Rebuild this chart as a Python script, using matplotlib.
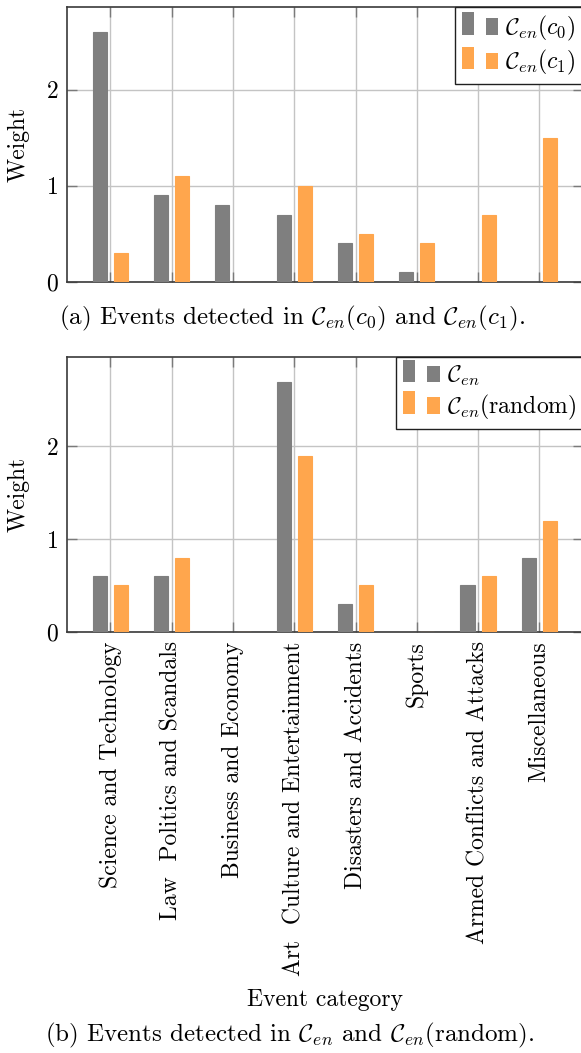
import numpy as np
import matplotlib
matplotlib.use('Agg')
import matplotlib.pyplot as plt
from matplotlib.patches import Patch, Rectangle
from matplotlib.legend_handler import HandlerBase

plt.rcParams['font.family'] = 'serif'
plt.rcParams['font.serif'] = ['cmr10']
plt.rcParams['mathtext.fontset'] = 'cm'
plt.rcParams['axes.formatter.use_mathtext'] = True

# data
categories = ['Science and Technology', 'Law  Politics and Scandals', 'Business and Economy',
              'Art  Culture and Entertainment', 'Disasters and Accidents', 'Sports',
              'Armed Conflicts and Attacks', 'Miscellaneous']
top_c0 = [2.6, 0.9, 0.8, 0.7, 0.4, 0.1, 0.0, 0.0]
top_c1 = [0.3, 1.1, 0.0, 1.0, 0.5, 0.4, 0.7, 1.5]
bot_en = [0.6, 0.6, 0.0, 2.7, 0.3, 0.0, 0.5, 0.8]
bot_rand = [0.5, 0.8, 0.0, 1.9, 0.5, 0.0, 0.6, 1.2]

top_labels = [r'$\mathcal{C}_{en}(c_0)$', r'$\mathcal{C}_{en}(c_1)$']
bot_labels = [r'$\mathcal{C}_{en}$', r'$\mathcal{C}_{en}$(random)']
cap_a = r'(a) Events detected in $\mathcal{C}_{en}(c_0)$ and $\mathcal{C}_{en}(c_1)$.'
cap_b = r'(b) Events detected in $\mathcal{C}_{en}$ and $\mathcal{C}_{en}$(random).'

GRAY = '#7f7f7f'
ORANGE = '#ffa64d'
FS = 17
FS_CAP = 18


class TwoBars(HandlerBase):
    # pgfplots style ybar legend icon: two small bars
    def create_artists(self, legend, orig_handle, xdescent, ydescent,
                       width, height, fontsize, trans):
        c = orig_handle.get_facecolor()
        w = width * 0.33
        r1 = Rectangle((-xdescent, -ydescent), w, height * 1.3,
                       facecolor=c, edgecolor='none', transform=trans)
        r2 = Rectangle((-xdescent + width * 0.67, -ydescent), w, height * 0.95,
                       facecolor=c, edgecolor='none', transform=trans)
        return [r1, r2]


fig = plt.figure(figsize=(5.81, 10.53), dpi=100)
ax1 = fig.add_axes([0.1148, 0.7322, 0.8887, 0.2614])
ax2 = fig.add_axes([0.1148, 0.4001, 0.8887, 0.2612])

x = np.arange(len(categories))
off, bw = 0.173, 0.23

for ax, s1, s2, labs in [(ax1, top_c0, top_c1, top_labels),
                         (ax2, bot_en, bot_rand, bot_labels)]:
    ax.bar(x - off, s1, bw, color=GRAY, edgecolor=GRAY, linewidth=0.8, zorder=3)
    ax.bar(x + off, s2, bw, color=ORANGE, edgecolor=ORANGE, linewidth=0.8, zorder=3)
    ymax = 1.1 * max(max(s1), max(s2))
    ax.set_xlim(-0.713, 7.713)
    ax.set_ylim(0, ymax)
    ax.set_xticks(x)
    ax.set_yticks([0, 1, 2])
    ax.set_axisbelow(True)
    ax.grid(True, color='#c4c4c4', linewidth=1.0)
    for sp in ax.spines.values():
        sp.set_color('#3a3a3a')
        sp.set_linewidth(1.2)
    ax.tick_params(direction='in', length=7.5, width=1.0, color='#7a7a7a',
                   top=True, right=True, labelsize=FS, pad=6)
    ax.set_ylabel('Weight', fontsize=FS)
    ax.yaxis.set_label_coords(-0.0934, 0.5)
    ax.yaxis.label.set_verticalalignment('center')
    handles = [Patch(facecolor=GRAY), Patch(facecolor=ORANGE)]
    leg = ax.legend(handles, labs, loc='upper right', bbox_to_anchor=(1, 1),
                    borderaxespad=0, fontsize=FS, fancybox=False, framealpha=1,
                    edgecolor='#202020', handlelength=1.55, handleheight=0.75,
                    handletextpad=0.3, borderpad=0.3, labelspacing=0.22,
                    handler_map={Patch: TwoBars()})
    leg.get_frame().set_linewidth(1.0)

ax1.set_xticklabels([])
ax2.set_xticklabels(categories, rotation=90, fontsize=FS)
ax2.tick_params(axis='x', pad=7)

fig.text(292 / 581, 1 - 318 / 1053, cap_a, ha='center', va='center', fontsize=FS_CAP)
fig.text(325 / 581, 1 - 1000 / 1053, 'Event category', ha='center', va='center', fontsize=FS)
fig.text(290 / 581, 1 - 1035 / 1053, cap_b, ha='center', va='center', fontsize=FS_CAP)

fig.savefig('out.png', dpi=100)
